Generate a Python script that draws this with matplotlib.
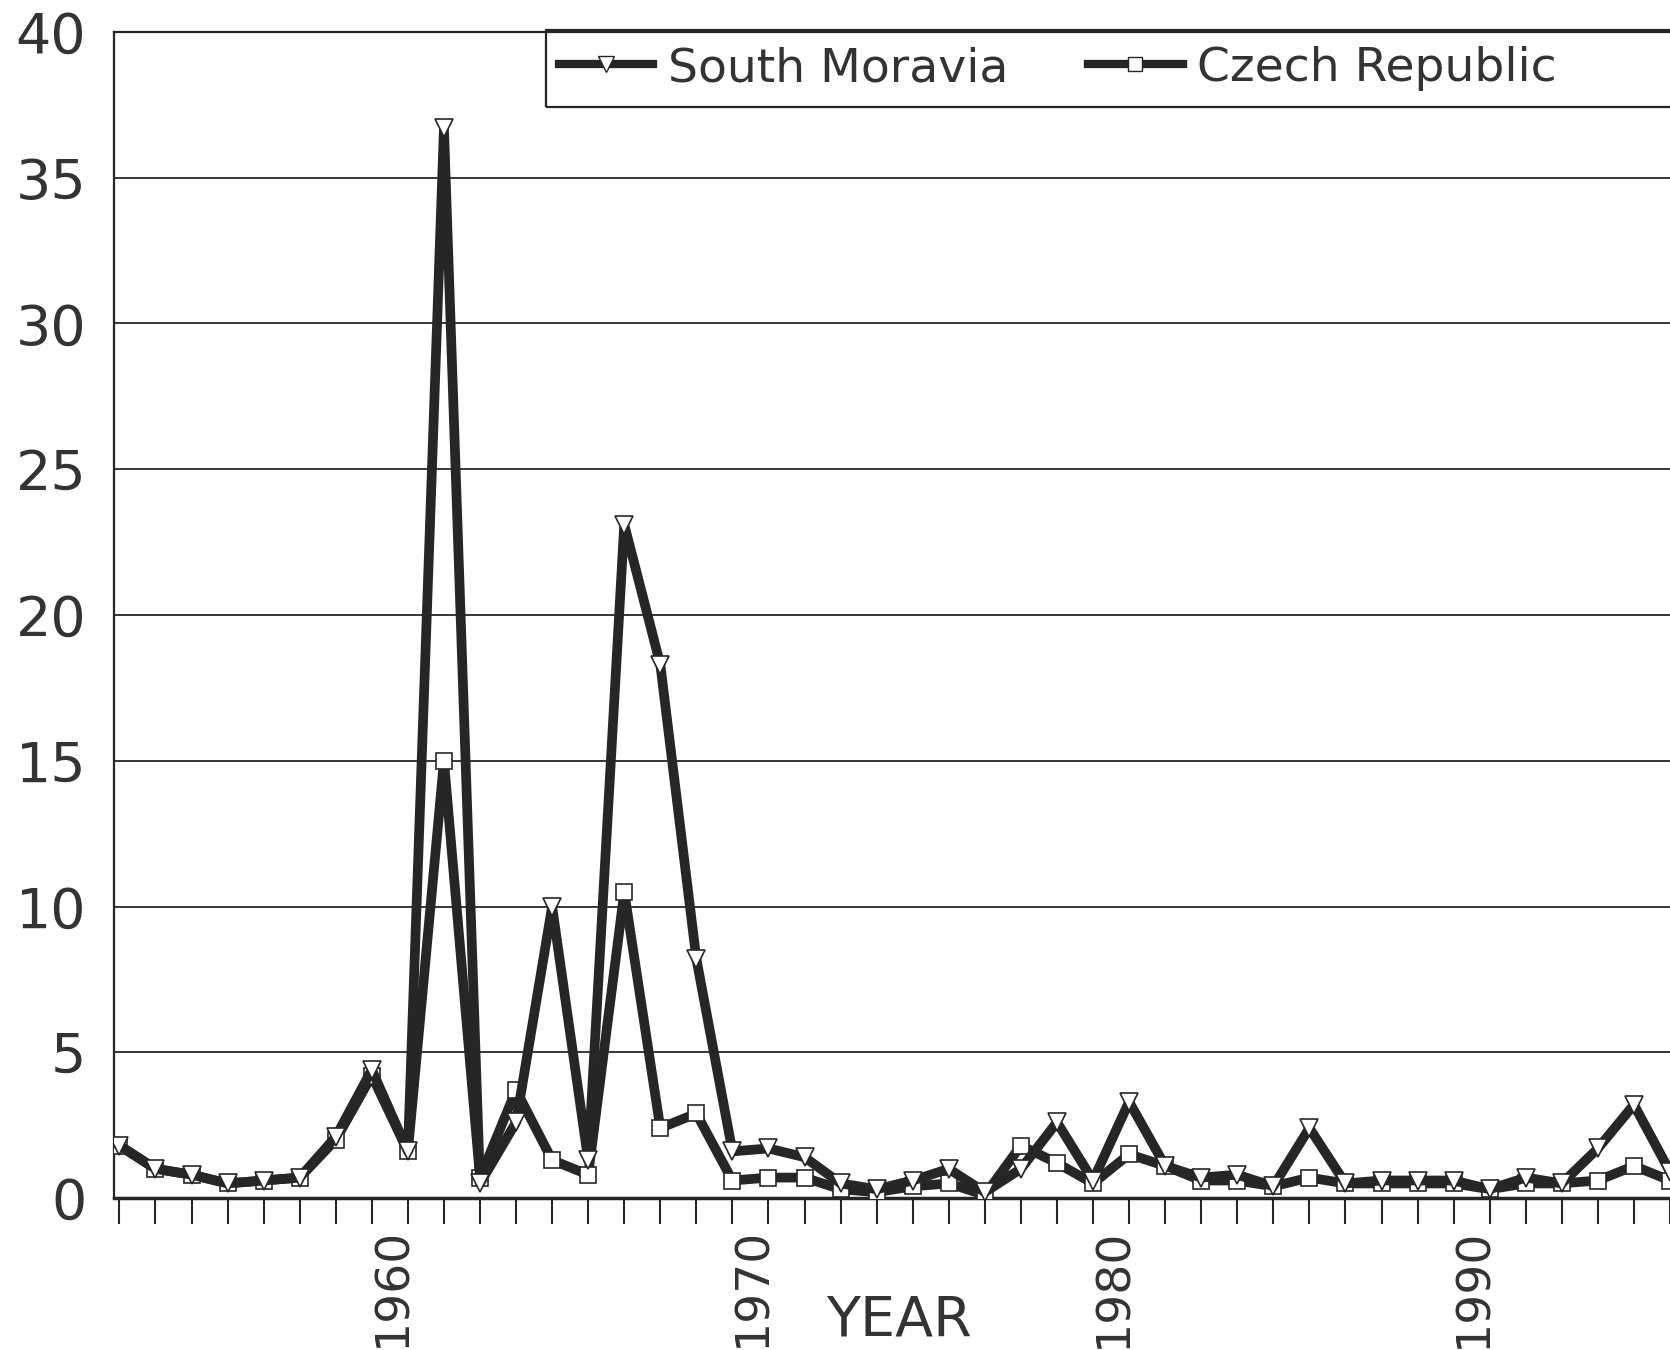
import numpy as np
import matplotlib.pyplot as plt
from matplotlib.lines import Line2D
from matplotlib.patches import Rectangle

# datos
years = list(range(1953, 1997))
south_moravia = [1.8, 1.0, 0.8, 0.5, 0.6, 0.7, 2.1, 4.4, 1.6, 36.7,
                 0.5, 2.6, 10.0, 1.3, 23.1, 18.3, 8.2, 1.6, 1.7, 1.4,
                 0.5, 0.3, 0.6, 1.0, 0.2, 1.0, 2.6, 0.6, 3.3, 1.1,
                 0.7, 0.8, 0.4, 2.4, 0.5, 0.6, 0.6, 0.6, 0.3, 0.7,
                 0.5, 1.7, 3.2, 0.9]
czech_rep = [1.8, 1.0, 0.8, 0.5, 0.6, 0.7, 2.0, 4.2, 1.6, 15.0,
             0.7, 3.7, 1.3, 0.8, 10.5, 2.4, 2.9, 0.6, 0.7, 0.7,
             0.3, 0.2, 0.4, 0.5, 0.1, 1.8, 1.2, 0.5, 1.5, 1.1,
             0.6, 0.6, 0.4, 0.7, 0.5, 0.5, 0.5, 0.5, 0.3, 0.5,
             0.5, 0.6, 1.1, 0.6]
y_ticks = [0, 5, 10, 15, 20, 25, 30, 35, 40]
year_labels = [1960, 1970, 1980, 1990]

W, H = 1670, 1350
ink = '#262626'

fig = plt.figure(figsize=(W / 100, H / 100), dpi=100)
ax = fig.add_axes([114 / W, 1 - 1198 / H, 1 - 114 / W, (1198 - 32) / H])

ax.plot(years, czech_rep, color=ink, lw=7, marker='s', ms=11,
        mfc='white', mec=ink, mew=1.2, zorder=3)
ax.plot(years, south_moravia, color=ink, lw=7, marker='v', ms=13,
        mfc='white', mec=ink, mew=1.2, zorder=4)

ax.set_xlim(1952.85, 1995.83)
ax.set_ylim(0, 40)

# lineas horizontales
for v in y_ticks[1:-1]:
    ax.axhline(v, color=ink, lw=1.3, zorder=1)

ax.set_yticks(y_ticks)
ax.tick_params(axis='y', length=0, pad=20, labelsize=40, labelcolor='#333333')

# marcas en cada anio, etiquetas desplazadas como en el original
ax.set_xticks(years, minor=True)
ax.set_xticks([y + 0.57 for y in year_labels], labels=[str(y) for y in year_labels],
              fontsize=34, rotation=90, va='top')
ax.tick_params(axis='x', which='minor', length=19, width=1.5, color=ink, direction='out')
ax.tick_params(axis='x', which='major', length=0, pad=21, labelcolor='#333333')

for s in ['left', 'top', 'bottom']:
    ax.spines[s].set_color(ink)
ax.spines['left'].set_linewidth(1.6)
ax.spines['top'].set_linewidth(1.6)
ax.spines['bottom'].set_linewidth(2.5)
ax.spines['right'].set_visible(False)

fig.text(899 / W, 1 - 1320 / H, 'YEAR', fontsize=40, color='#333333',
         ha='center', va='center')

# leyenda
fig.patches.append(Rectangle((546 / W, 1 - 107 / H), 1.0, 77 / H,
                             transform=fig.transFigure, fill=False,
                             edgecolor=ink, lw=1.6))
handles = [Line2D([], [], color=ink, lw=6, marker='v', ms=11, mfc='white', mec=ink, mew=1),
           Line2D([], [], color=ink, lw=6, marker='s', ms=10, mfc='white', mec=ink, mew=1)]
fig.legend(handles, ['South Moravia', 'Czech Republic'], loc='center left',
           bbox_to_anchor=(559 / W, 1 - 68.5 / H), ncol=2, frameon=False,
           fontsize=34, borderpad=0, borderaxespad=0, handlelength=2.0,
           handletextpad=0.3, columnspacing=1.7, labelcolor='#333333')

fig.savefig('out.png', dpi=100)
